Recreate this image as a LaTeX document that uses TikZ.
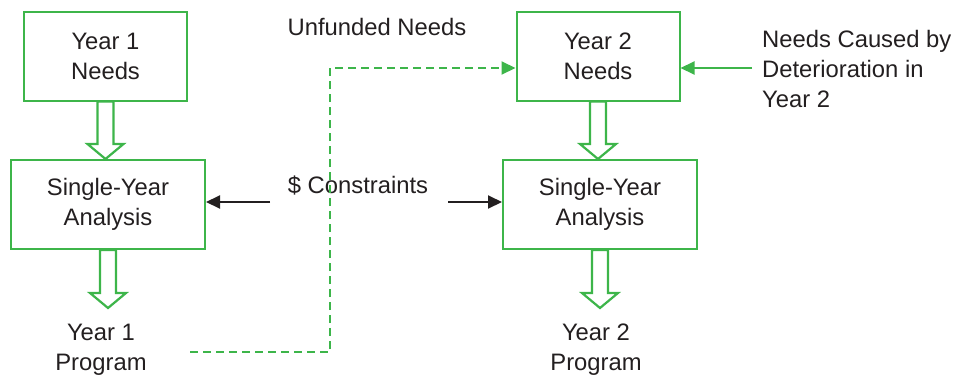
\documentclass[tikz,border=0pt]{standalone}
\usepackage{fontspec}
\setmainfont{Liberation Sans}
\usepackage{tikz}
\usetikzlibrary{
  arrows.meta,
  positioning,
  calc
}
\definecolor{fpGreen}{HTML}{3DB54A}
\definecolor{fpInk}{HTML}{231F20}
\tikzset{
  fpnode/.style={
    draw=fpGreen, line width=2pt, minimum width=163pt, minimum height=89pt,
    align=center, text=fpInk, font=\fontsize{23.8}{30}\selectfont
  },
  needs/.style={fpnode},
  analysis/.style={fpnode, minimum width=194pt},
  txt/.style={align=center, text=fpInk, font=\fontsize{23.8}{30}\selectfont, inner sep=2pt},
  progtxt/.style={txt, anchor=north, inner ysep=16pt},
  hollow/.style={draw=fpGreen, fill=white, line width=2.2pt, line join=miter},
  unfunded/.style={-{Triangle[length=14pt, width=13pt]}, line width=2pt, fpGreen, dash pattern=on 8pt off 5pt},
  decay/.style={-{Triangle[length=14pt, width=13pt]}, line width=2pt, fpGreen},
  budget/.style={-{Triangle[length=14pt, width=13pt]}, line width=2pt, fpInk}
}

\begin{document}
\begin{tikzpicture}[x=1pt, y=-1pt]
  \useasboundingbox (0,0) rectangle (953,378);

  % year 1 column
  \node[needs] (y1needs) at (105.5,56) {Year 1\\Needs};
  \node[analysis] (y1sya) at (108,204.5) {Single-Year\\Analysis};
  \node[progtxt] (y1prog) at (101,308) {Year 1\\Program};

  % year 2 column
  \node[needs] (y2needs) at (598,56) {Year 2\\Needs};
  \node[analysis] (y2sya) at (600,204.5) {Single-Year\\Analysis};
  \node[progtxt] (y2prog) at (596,308) {Year 2\\Program};

  % free labels
  \node[txt] (unfunded) at (377,27) {Unfunded Needs};
  \node[txt] (money) at (358,186) {\$ Constraints};
  \node[txt, anchor=west, align=left] (deter) at (760,68.5) {Needs Caused by\\Deterioration in\\Year 2};

  % block arrows down each column
  \foreach \src/\dst in {y1needs/y1sya, y1sya/y1prog, y2needs/y2sya, y2sya/y2prog}{
    \draw[hollow] ($(\src.south)+(-8,0)$)
      -- ($(\src.south |- \dst.north)+(-8,-15)$)
      -- ($(\src.south |- \dst.north)+(-18,-15)$)
      -- (\src.south |- \dst.north)
      -- ($(\src.south |- \dst.north)+(18,-15)$)
      -- ($(\src.south |- \dst.north)+(8,-15)$)
      -- ($(\src.south)+(8,0)$) -- cycle;
  }

  % budget constraints
  \coordinate (budgetL) at (270,202);
  \coordinate (budgetR) at (448,202);
  \draw[budget] (budgetL) -- (y1sya.east |- budgetL);
  \draw[budget] (budgetR) -- (y2sya.west |- budgetR);

  % deterioration
  \coordinate (decaystart) at (752,68);
  \draw[decay] (decaystart) -- (y2needs.east |- decaystart);

  % unfunded carry-over
  \coordinate (progend) at (190,352);
  \coordinate (bendlow) at (330,352);
  \coordinate (bendhigh) at (330,68);
  \draw[unfunded] (progend) -- (bendlow) -- (bendhigh) -- (y2needs.west |- bendhigh);
\end{tikzpicture}
\end{document}
